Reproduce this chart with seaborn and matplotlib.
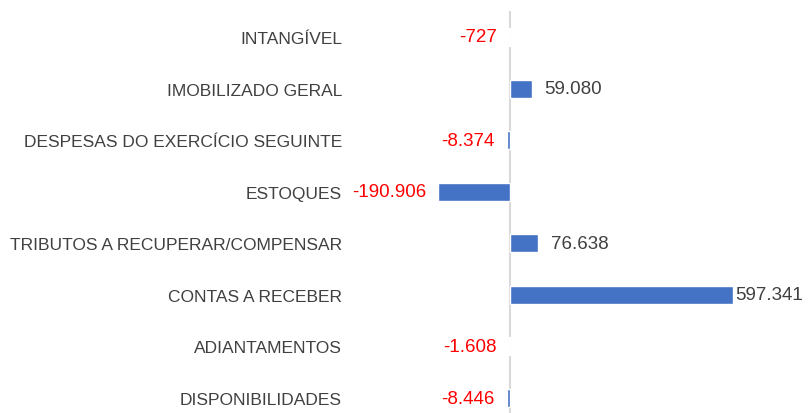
import matplotlib
matplotlib.use("Agg")
import pandas as pd
import seaborn as sns
import matplotlib.pyplot as plt

# contas do ativo e suas variações
categorias = ["INTANGÍVEL", "IMOBILIZADO GERAL", "DESPESAS DO EXERCÍCIO SEGUINTE",
              "ESTOQUES", "TRIBUTOS A RECUPERAR/COMPENSAR", "CONTAS A RECEBER",
              "ADIANTAMENTOS", "DISPONIBILIDADES"]
valores = [-727, 59080, -8374, -190906, 76638, 597341, -1608, -8446]
rotulos = ["-727", "59.080", "-8.374", "-190.906", "76.638", "597.341", "-1.608", "-8.446"]

df = pd.DataFrame({"categoria": categorias, "valor": valores})

sns.set_style("white")
plt.rcParams['font.family'] = ['Liberation Sans', 'DejaVu Sans']

fig = plt.figure(figsize=(8.09, 4.14), dpi=100)
ax = fig.add_axes([435 / 809, 0, 299 / 809, 402 / 414])

sns.barplot(data=df, x="valor", y="categoria", orient="h", color="#4472C4",
            width=0.35, saturation=1, ax=ax)

ax.set_xlim(-200000, 600000)
ax.set_ylim(7.29, -0.504)
ax.axvline(0, color="#D9D9D9", lw=1.5, zorder=0)
sns.despine(ax=ax, left=True, bottom=True)
ax.set_xticks([])
ax.set_xlabel("")
ax.set_ylabel("")
ax.tick_params(axis="y", length=0, pad=67, labelsize=12.5, labelcolor="#404040")

# rótulos de valores
for i, (v, txt) in enumerate(zip(valores, rotulos)):
    if v < 0:
        ax.annotate(txt, (v, i), textcoords="offset points", xytext=(-9, 0),
                    ha="right", va="center", color="#FF0000", fontsize=13.5)
    else:
        pad = 1.5 if v == max(valores) else 9
        ax.annotate(txt, (v, i), textcoords="offset points", xytext=(pad, 0),
                    ha="left", va="center", color="#404040", fontsize=13.5,
                    annotation_clip=False)

fig.savefig("out.png", dpi=100)
